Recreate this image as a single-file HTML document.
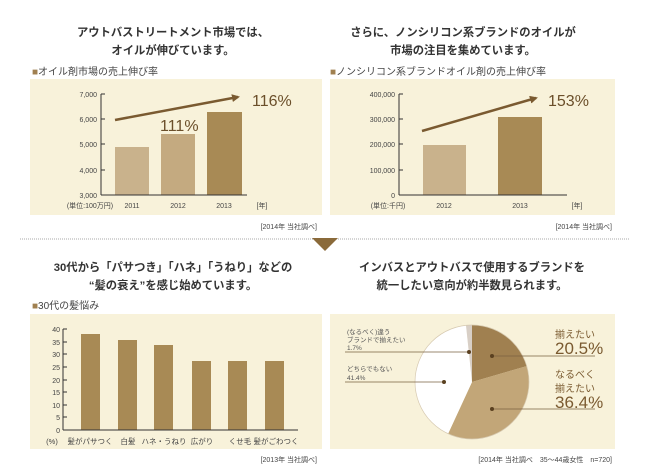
<!DOCTYPE html>
<html><head><meta charset="utf-8"><style>
body{margin:0;background:#fff;}
svg{display:block;font-family:"Liberation Sans","Noto Sans CJK JP",sans-serif;}
</style></head><body>
<svg width="650" height="470" viewBox="0 0 650 470" xmlns="http://www.w3.org/2000/svg">
<defs><marker id="ah" markerWidth="8" markerHeight="8" refX="6" refY="4" orient="auto" markerUnits="userSpaceOnUse"><path d="M0,0 L8,4 L0,8 Z" fill="#7a5a30"/></marker></defs>
<rect width="650" height="470" fill="#fff"/>
<g fill="#333" font-size="11.3" text-anchor="middle" font-weight="bold">
<text x="173" y="36">アウトバストリートメント市場では、</text>
<text x="173" y="54">オイルが伸びています。</text>
<text x="463" y="36">さらに、ノンシリコン系ブランドのオイルが</text>
<text x="463" y="54">市場の注目を集めています。</text>
<text x="173" y="271">30代から「パサつき」「ハネ」「うねり」などの</text>
<text x="173" y="289">“髪の衰え”を感じ始めています。</text>
<text x="472" y="271">インバスとアウトバスで使用するブランドを</text>
<text x="472" y="289">統一したい意向が約半数見られます。</text>
</g>
<g font-size="10" fill="#444">
<text x="32" y="75"><tspan fill="#a08050">■</tspan>オイル剤市場の売上伸び率</text>
<text x="330" y="75"><tspan fill="#a08050">■</tspan>ノンシリコン系ブランドオイル剤の売上伸び率</text>
<text x="32" y="309"><tspan fill="#a08050">■</tspan>30代の髪悩み</text>
</g>
<rect x="30" y="79" width="292" height="136" fill="#f8f2da"/>
<rect x="330" y="79" width="285" height="136" fill="#f8f2da"/>
<rect x="30" y="314" width="292" height="135" fill="#f8f2da"/>
<rect x="330" y="314" width="285" height="135" fill="#f8f2da"/>
<rect x="115" y="147" width="34" height="48" fill="#c9b28c"/>
<rect x="161" y="134" width="34" height="61" fill="#c4aa80"/>
<rect x="207" y="112" width="35" height="83" fill="#a88a55"/>
<g stroke="#333" stroke-width="1"><line x1="101" y1="94" x2="101" y2="195"/><line x1="101" y1="195" x2="247" y2="195"/>
<line x1="101" y1="94" x2="105" y2="94"/><line x1="101" y1="119" x2="105" y2="119"/><line x1="101" y1="144" x2="105" y2="144"/><line x1="101" y1="170" x2="105" y2="170"/></g>
<g font-size="7" fill="#444" text-anchor="end"><text x="97" y="97">7,000</text><text x="97" y="122">6,000</text><text x="97" y="147">5,000</text><text x="97" y="173">4,000</text><text x="97" y="198">3,000</text></g>
<g font-size="7" fill="#444" text-anchor="middle"><text x="90" y="208">(単位:100万円)</text><text x="132" y="208">2011</text><text x="178" y="208">2012</text><text x="224" y="208">2013</text><text x="262" y="208">[年]</text></g>
<line x1="115" y1="120" x2="238" y2="97" stroke="#7a5a30" stroke-width="2.5" marker-end="url(#ah)"/>
<text x="252" y="106" font-size="16" fill="#6b4f2a">116%</text>
<text x="160" y="131" font-size="16" fill="#6b4f2a">111%</text>
<text x="317" y="229" font-size="7" fill="#444" text-anchor="end">[2014年 当社調べ]</text>
<rect x="423" y="145" width="43" height="50" fill="#c9b28c"/>
<rect x="498" y="117" width="44" height="78" fill="#a88a55"/>
<g stroke="#333" stroke-width="1"><line x1="399" y1="94" x2="399" y2="195"/><line x1="399" y1="195" x2="567" y2="195"/>
<line x1="399" y1="94" x2="403" y2="94"/><line x1="399" y1="119" x2="403" y2="119"/><line x1="399" y1="144" x2="403" y2="144"/><line x1="399" y1="170" x2="403" y2="170"/></g>
<g font-size="7" fill="#444" text-anchor="end"><text x="395" y="97">400,000</text><text x="395" y="122">300,000</text><text x="395" y="147">200,000</text><text x="395" y="173">100,000</text><text x="395" y="198">0</text></g>
<g font-size="7" fill="#444" text-anchor="middle"><text x="388" y="208">(単位:千円)</text><text x="444" y="208">2012</text><text x="520" y="208">2013</text><text x="577" y="208">[年]</text></g>
<line x1="422" y1="131" x2="536" y2="98" stroke="#7a5a30" stroke-width="2.5" marker-end="url(#ah)"/>
<text x="548" y="106" font-size="16" fill="#6b4f2a">153%</text>
<text x="612" y="229" font-size="7" fill="#444" text-anchor="end">[2014年 当社調べ]</text>
<line x1="20" y1="239" x2="630" y2="239" stroke="#aaa" stroke-width="1" stroke-dasharray="1,1"/>
<path d="M312,238 L338,238 L325,251 Z" fill="#8a6a3a"/>
<g fill="#a88a55">
<rect x="81" y="334" width="19" height="96"/><rect x="118" y="340" width="19" height="90"/><rect x="154" y="345" width="19" height="85"/><rect x="192" y="361" width="19" height="69"/><rect x="228" y="361" width="19" height="69"/><rect x="265" y="361" width="19" height="69"/></g>
<g stroke="#333" stroke-width="1"><line x1="63" y1="329" x2="63" y2="430"/><line x1="63" y1="430" x2="298" y2="430"/>
<line x1="63" y1="329" x2="67" y2="329"/><line x1="63" y1="342" x2="67" y2="342"/><line x1="63" y1="354" x2="67" y2="354"/><line x1="63" y1="367" x2="67" y2="367"/><line x1="63" y1="380" x2="67" y2="380"/><line x1="63" y1="392" x2="67" y2="392"/><line x1="63" y1="405" x2="67" y2="405"/><line x1="63" y1="417" x2="67" y2="417"/></g>
<g font-size="7" fill="#444" text-anchor="end"><text x="60" y="332">40</text><text x="60" y="345">35</text><text x="60" y="357">30</text><text x="60" y="370">25</text><text x="60" y="383">20</text><text x="60" y="395">15</text><text x="60" y="408">10</text><text x="60" y="420">5</text><text x="60" y="433">0</text></g>
<g font-size="7.5" fill="#444" text-anchor="middle"><text x="52" y="444">(%)</text><text x="90" y="444">髪がパサつく</text><text x="128" y="444">白髪</text><text x="164" y="444">ハネ・うねり</text><text x="202" y="444">広がり</text><text x="240" y="444">くせ毛</text><text x="276" y="444">髪がごわつく</text></g>
<text x="317" y="462" font-size="7" fill="#444" text-anchor="end">[2013年 当社調べ]</text>
<path d="M472,382 L472,325 A57,57 0 0,1 526.7,366.1 Z" fill="#a08050"/>
<path d="M472,382 L526.7,366.1 A57,57 0 0,1 448.1,433.8 Z" fill="#c2a678"/>
<path d="M472,382 L448.1,433.8 A57,57 0 0,1 466,325.3 Z" fill="#fff"/>
<path d="M472,382 L466,325.3 A57,57 0 0,1 472,325 Z" fill="#d8cfc6"/>
<circle cx="472" cy="382" r="57" fill="none" stroke="#d6c9b0" stroke-width="0.7"/>
<g stroke="#7a6040" stroke-width="0.8"><line x1="492" y1="356" x2="595" y2="356"/><line x1="492" y1="409" x2="595" y2="409"/><line x1="345" y1="352" x2="469" y2="352"/><line x1="345" y1="382" x2="444" y2="382"/></g>
<g fill="#5a4020"><circle cx="492" cy="356" r="2"/><circle cx="492" cy="409" r="2"/><circle cx="469" cy="352" r="2"/><circle cx="444" cy="382" r="2"/></g>
<g fill="#7a5a30"><text x="555" y="338" font-size="10">揃えたい</text><text x="555" y="354" font-size="17">20.5%</text>
<text x="555" y="378" font-size="10">なるべく</text><text x="555" y="392" font-size="10">揃えたい</text><text x="555" y="408" font-size="17">36.4%</text></g>
<g font-size="6.5" fill="#555"><text x="347" y="334">(なるべく)違う</text><text x="347" y="342">ブランドで揃えたい</text><text x="347" y="350">1.7%</text>
<text x="347" y="371">どちらでもない</text><text x="347" y="380">41.4%</text></g>
<text x="612" y="462" font-size="7" fill="#444" text-anchor="end">[2014年 当社調べ　35〜44歳女性　n=720]</text>
</svg>
</body></html>
